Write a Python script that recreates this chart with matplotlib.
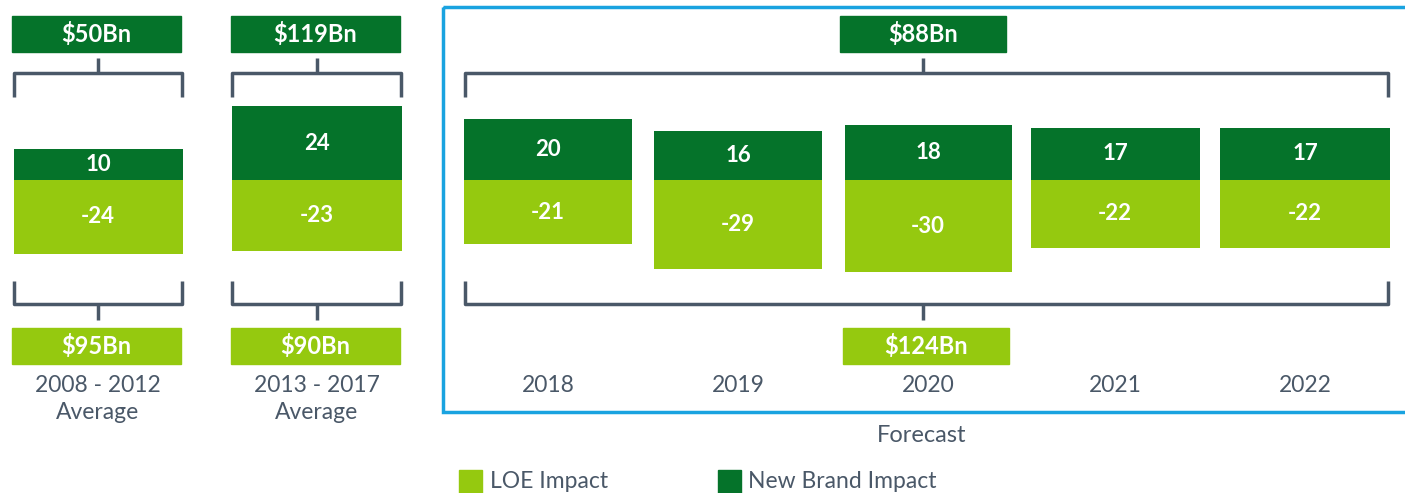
import matplotlib.pyplot as plt
from matplotlib.patches import Rectangle

plt.rcParams['font.family'] = ['Lato', 'DejaVu Sans']

# data
groups = ['2008 - 2012\nAverage', '2013 - 2017\nAverage', '2018', '2019', '2020', '2021', '2022']
new_brand = [10, 24, 20, 16, 18, 17, 17]
loe = [-24, -23, -21, -29, -30, -22, -22]
new_totals = ['$50Bn', '$119Bn', '$88Bn']
loe_totals = ['$95Bn', '$90Bn', '$124Bn']

DARK = '#05732a'
LIGHT = '#95c90f'
SLATE = '#4a5868'
BLUE = '#1aa3e0'

# layout (pixel positions)
W, H = 1405, 493
centers = [98, 317, 548, 738, 928, 1115, 1305]
widths = [169, 170, 168, 168, 167, 169, 170]
zero_px, px_per_unit = 180, 3.07

fig = plt.figure(figsize=(W / 100, H / 100), dpi=100)
ax = fig.add_axes([0, 0, 1, 1])
ax.set_xlim(0, W)
ax.set_ylim(-(H - zero_px) / px_per_unit, zero_px / px_per_unit)
ax.axis('off')

ax.bar(centers, new_brand, width=widths, color=DARK)
ax.bar(centers, loe, width=widths, color=LIGHT)
for c, nb, lo in zip(centers, new_brand, loe):
    ax.text(c, nb / 2, str(nb), ha='center', va='center', color='white', fontsize=16, fontweight='bold')
    ax.text(c, lo / 2, str(lo), ha='center', va='center', color='white', fontsize=16, fontweight='bold')

# overlay in pixel coordinates
ov = fig.add_axes([0, 0, 1, 1], facecolor='none')
ov.set_xlim(0, W)
ov.set_ylim(H, 0)
ov.axis('off')

spans = [(14, 182), (232, 401), (465, 1388)]
box_x = [(12, 181), (231, 400), (840, 1006)]
box_x_bot = [(12, 181), (231, 400), (843, 1009)]
for (x0, x1), (b0, b1), (c0, c1), t_new, t_loe in zip(spans, box_x, box_x_bot, new_totals, loe_totals):
    mid = (x0 + x1) / 2 if x1 - x0 < 300 else 923
    kw = dict(color=SLATE, lw=2.5, solid_capstyle='butt')
    # top bracket
    ov.plot([x0, x0, x1, x1], [97, 73, 73, 97], **kw)
    ov.plot([mid, mid], [58, 73], **kw)
    # bottom bracket
    ov.plot([x0, x0, x1, x1], [281, 304, 304, 281], **kw)
    ov.plot([mid, mid], [304, 320], **kw)
    # total boxes
    ov.add_patch(Rectangle((b0, 16), b1 - b0, 36, color=DARK))
    ov.text((b0 + b1) / 2, 34, t_new, ha='center', va='center', color='white', fontsize=17, fontweight='bold')
    ov.add_patch(Rectangle((c0, 328), c1 - c0, 36, color=LIGHT))
    ov.text((c0 + c1) / 2, 346, t_loe, ha='center', va='center', color='white', fontsize=17, fontweight='bold')

# category labels
for c, g in zip(centers, groups):
    ov.text(c, 375, g, ha='center', va='top', color=SLATE, fontsize=16.5, linespacing=1.35)

# forecast frame
ov.add_patch(Rectangle((443, 7), 980, 405, fill=False, edgecolor=BLUE, lw=2.5))
ov.text(922, 435, 'Forecast', ha='center', va='center', color=SLATE, fontsize=17)

# legend
ov.add_patch(Rectangle((459, 470), 23, 23, color=LIGHT))
ov.text(490, 481, 'LOE Impact', ha='left', va='center', color=SLATE, fontsize=16.5)
ov.add_patch(Rectangle((718, 470), 23, 23, color=DARK))
ov.text(748, 481, 'New Brand Impact', ha='left', va='center', color=SLATE, fontsize=16.5)

fig.savefig('out.png', dpi=100)
